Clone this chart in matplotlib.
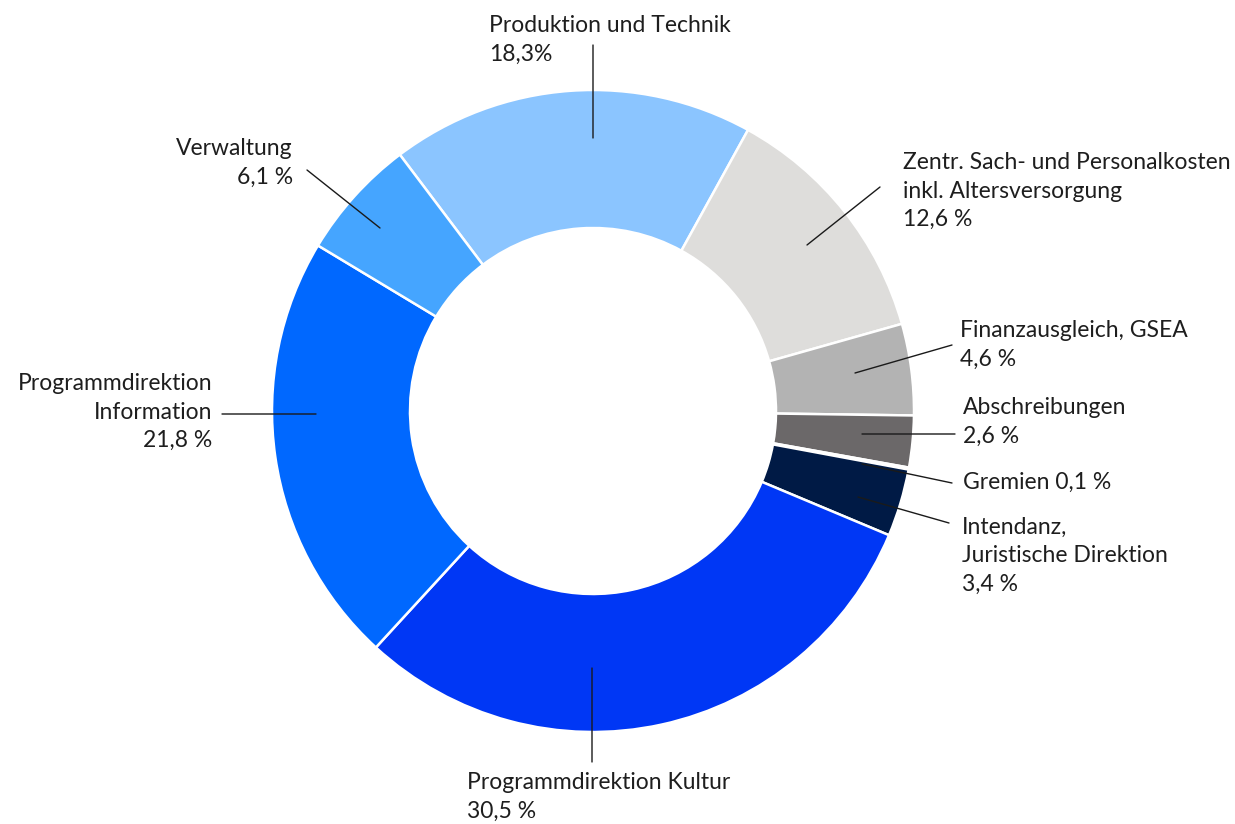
import matplotlib.pyplot as plt

# --- DATEN ---
labels = ['Produktion und Technik\n18,3%',
          'Zentr. Sach- und Personalkosten\ninkl. Altersversorgung\n12,6 %',
          'Finanzausgleich, GSEA\n4,6 %',
          'Abschreibungen\n2,6 %',
          'Gremien 0,1 %',
          'Intendanz,\nJuristische Direktion\n3,4 %',
          'Programmdirektion Kultur\n30,5 %',
          'Programmdirektion\nInformation\n21,8 %',
          'Verwaltung\n6,1 %']
values = [18.3, 12.6, 4.6, 2.6, 0.1, 3.4, 30.5, 21.8, 6.1]
colors = ['#8BC5FF', '#DEDDDB', '#B3B3B3', '#6B6869', '#9A9A9A',
          '#001A45', '#0037F5', '#0068FF', '#45A5FF']

# --- LAYOUT (Pixel, y von oben) ---
W, H = 1235, 824
CX, CY, R_OUT, R_IN = 593, 411, 321, 183

# Textposition (x, y-Mitte, Ausrichtung) und Linie (Text-Ende, Ring-Punkt)
text_pos = [(489, 40, 'left'), (903, 191, 'left'), (960, 345, 'left'),
            (963, 422, 'left'), (963, 482, 'left'), (962, 556, 'left'),
            (467, 797, 'left'), (212, 412, 'right'), (293, 163, 'right')]
leaders = [((593, 45), (593, 138)), ((880, 187), (807, 245)),
           ((952, 345), (855, 373)), ((955, 434), (862, 434)),
           ((952, 483), (862, 464)), ((949, 523), (858, 497)),
           ((592, 762), (592, 668)), ((222, 414), (316, 414)),
           ((307, 170), (380, 228))]

plt.rcParams['font.family'] = ['Lato', 'DejaVu Sans']

fig = plt.figure(figsize=(W / 100, H / 100), dpi=100)
ax = fig.add_axes([0, 0, 1, 1])

ax.pie(values, colors=colors, startangle=127, counterclock=False,
       radius=R_OUT, center=(CX, H - CY),
       wedgeprops=dict(width=R_OUT - R_IN, edgecolor='white', linewidth=1.8))

for lab, (tx, ty, ha), (p0, p1) in zip(labels, text_pos, leaders):
    ax.text(tx, H - ty, lab, ha=ha, va='center', fontsize=16.5,
            color='#1e1e1e', linespacing=1.45)
    ax.annotate('', xy=(p1[0], H - p1[1]), xytext=(p0[0], H - p0[1]),
                arrowprops=dict(arrowstyle='-', color='#1a1a1a', lw=1.0,
                                shrinkA=0, shrinkB=0))

ax.set_xlim(0, W)
ax.set_ylim(0, H)
ax.set_aspect('equal')
ax.axis('off')

fig.savefig('out.png', dpi=100)
